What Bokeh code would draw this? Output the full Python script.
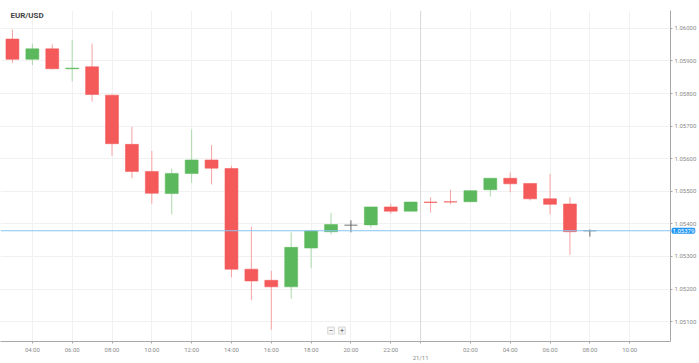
from bokeh.plotting import figure
from bokeh.models import Range1d, FixedTicker, Span, Label, NumeralTickFormatter, ColumnDataSource
from bokeh.embed import file_html
from bokeh.resources import INLINE

# ---- data ----
title_text = "EUR/USD"
hours = [3, 4, 5, 6, 7, 8, 9, 10, 11, 12, 13, 14, 15, 16, 17, 18, 19, 20, 21, 22,
         23, 24, 25, 26, 27, 28, 29, 30, 31, 32]
opens = [1.05967, 1.05905, 1.05937, 1.05876, 1.05882, 1.05795, 1.05644, 1.05561, 1.05493, 1.05555,
         1.05596, 1.05570, 1.05261, 1.05227, 1.05207, 1.05326, 1.05376, 1.05396, 1.05397, 1.05452,
         1.05439, 1.05467, 1.05468, 1.05468, 1.05505, 1.05540, 1.05524, 1.05477, 1.05461, 1.05379]
highs = [1.05996, 1.05953, 1.05951, 1.05964, 1.05953, 1.05797, 1.05698, 1.05624, 1.05570, 1.05690,
         1.05642, 1.05578, 1.05391, 1.05256, 1.05374, 1.05380, 1.05434, 1.05411, 1.05453, 1.05462,
         1.05468, 1.05482, 1.05505, 1.05503, 1.05541, 1.05558, 1.05525, 1.05553, 1.05482, 1.05383]
lows = [1.05893, 1.05887, 1.05874, 1.05837, 1.05775, 1.05609, 1.05540, 1.05462, 1.05429, 1.05526,
        1.05521, 1.05236, 1.05166, 1.05075, 1.05171, 1.05264, 1.05368, 1.05374, 1.05388, 1.05431,
        1.05438, 1.05435, 1.05460, 1.05467, 1.05484, 1.05497, 1.05472, 1.05429, 1.05305, 1.05361]
closes = [1.05905, 1.05937, 1.05876, 1.05878, 1.05797, 1.05646, 1.05561, 1.05494, 1.05555, 1.05596,
          1.05571, 1.05261, 1.05225, 1.05207, 1.05328, 1.05378, 1.05398, 1.05396, 1.05452, 1.05439,
          1.05467, 1.05466, 1.05467, 1.05502, 1.05540, 1.05523, 1.05477, 1.05460, 1.05376, 1.05379]
current_price = 1.05379
x_tick_hours = [4, 6, 8, 10, 12, 14, 16, 18, 20, 22, 26, 28, 30, 32, 34]
x_tick_labels = ["04:00", "06:00", "08:00", "10:00", "12:00", "14:00", "16:00", "18:00",
                 "20:00", "22:00", "02:00", "04:00", "06:00", "08:00", "10:00"]
day_break_hour = 23.5
day_break_label = "21/11"
y_ticks = [1.051, 1.052, 1.053, 1.054, 1.055, 1.056, 1.057, 1.058, 1.059, 1.060]

# ---- styling ----
RED = "#f45a5a"
GREEN = "#5cb85c"
GRAY = "#666666"
RED_W = "#f7a3a3"
GREEN_W = "#acd9ac"

body_top, body_bot, fill, wick = [], [], [], []
for o, c in zip(opens, closes):
    body_top.append(max(o, c))
    body_bot.append(min(o, c))
    if c > o:
        fill.append(GREEN); wick.append(GREEN_W)
    elif c < o:
        fill.append(RED); wick.append(RED_W)
    else:
        fill.append(GRAY); wick.append(GRAY)

src = ColumnDataSource(dict(x=hours, high=highs, low=lows, top=body_top, bottom=body_bot,
                            fill=fill, wick=wick))

p = figure(width=699, height=363, output_backend="svg", toolbar_location=None,
           x_range=Range1d(2.4, 36.05), y_range=Range1d(1.050392, 1.060547),
           y_axis_location="right", min_border_left=0, min_border_top=10,
           min_border_right=26, min_border_bottom=19, background_fill_color="white",
           border_fill_color="white")
p.outline_line_color = None

p.segment(x0="x", x1="x", y0="low", y1="high", color="wick", line_width=1, source=src)
p.vbar(x="x", width=0.65, top="top", bottom="bottom", fill_color="fill",
       line_color="fill", line_alpha=0.55, line_width=1, source=src)

# axes
p.xaxis.ticker = FixedTicker(ticks=x_tick_hours + [day_break_hour])
overrides = {h: lab for h, lab in zip(x_tick_hours, x_tick_labels)}
overrides[day_break_hour] = "\n" + day_break_label
p.xaxis.major_label_overrides = overrides
p.yaxis.ticker = FixedTicker(ticks=y_ticks)
p.yaxis.formatter = NumeralTickFormatter(format="0.00000")
for ax in (p.xaxis[0], p.yaxis[0]):
    ax.axis_line_color = "#a8a8a8"
    ax.axis_line_width = 1
    ax.major_tick_line_color = "#a8a8a8"
    ax.major_tick_out = 2
    ax.major_tick_in = 0
    ax.minor_tick_line_color = None
    ax.major_label_text_font = "Roboto"
    ax.major_label_text_font_size = "6px"
    ax.major_label_text_color = "#8a8a8a"
    ax.major_label_standoff = 2

p.xgrid.ticker = FixedTicker(ticks=x_tick_hours)
p.ygrid.ticker = FixedTicker(ticks=y_ticks)
p.xgrid.grid_line_color = "#f1f1f1"
p.ygrid.grid_line_color = "#f1f1f1"

p.add_layout(Span(location=day_break_hour, dimension="height", line_color="#d8d8d8", line_width=1))
p.add_layout(Span(location=current_price, dimension="width", line_color="#86c4f2", line_width=1))

# current-price badge: hosted in a side panel so it is not clipped to the frame
badge = Label(x=36.05, y=current_price, x_offset=1, text="1.05379", text_font="Roboto",
              text_font_size="6px", text_color="white", text_baseline="middle", text_align="left",
              background_fill_color="#2196f3", border_radius=2, padding=1)
p.add_layout(badge, "above")

p.add_layout(Label(x=2.9, y=1.060517, text=title_text, text_font="Roboto",
                   text_font_style="bold", text_font_size="8px", text_color="#444444",
                   text_baseline="top"))

for hx, sym in [(19.0, "\u2212"), (19.55, "+")]:
    p.add_layout(Label(x=hx, y=1.050727, text=sym, text_font="Roboto", text_font_size="8px",
                       text_color="#555555", text_align="center", text_baseline="middle",
                       background_fill_color="#f7f7f7", border_line_color="#d5d5d5",
                       padding=1))

open("out.html", "w").write(file_html(p, INLINE))
